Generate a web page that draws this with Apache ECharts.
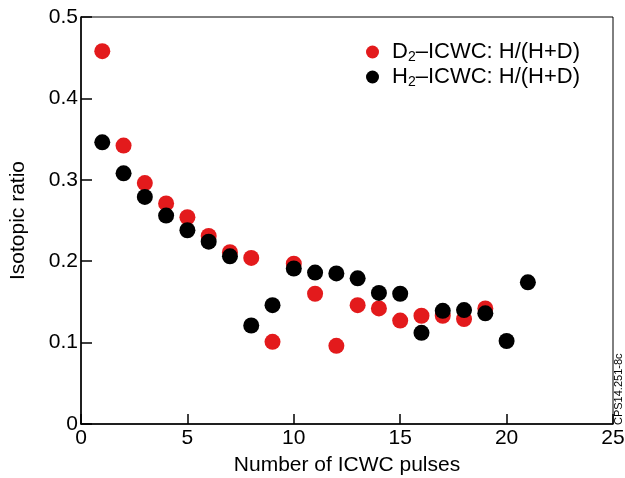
<!DOCTYPE html>
<html lang="en">
<head>
    <meta charset="UTF-8">
    <title>Isotopic ratio</title>
    <script src="https://cdn.jsdelivr.net/npm/echarts@6/dist/echarts.min.js"></script>
</head>
<body style="margin:0;">
    <div id="pic1" style="width:625px;height:478px;"></div>
    <script>
        // pulse numbers
        var pulsesD2 = [1, 2, 3, 4, 5, 6, 7, 8, 9, 10, 11, 12, 13, 14, 15, 16, 17, 18, 19];
        var pulsesH2 = [1, 2, 3, 4, 5, 6, 7, 8, 9, 10, 11, 12, 13, 14, 15, 16, 17, 18, 19, 20, 21];
        // D2-ICWC: H/(H+D)
        var ratioD2 = [0.458, 0.342, 0.296, 0.271, 0.254, 0.231, 0.211, 0.204, 0.101, 0.197,
                       0.160, 0.096, 0.146, 0.142, 0.127, 0.133, 0.133, 0.129, 0.142];
        // H2-ICWC: H/(H+D)
        var ratioH2 = [0.346, 0.308, 0.279, 0.256, 0.238, 0.224, 0.206, 0.121, 0.146, 0.191,
                       0.186, 0.185, 0.179, 0.161, 0.160, 0.112, 0.139, 0.140, 0.136, 0.102, 0.174];

        var font = 'Liberation Sans';

        function pairs(xs, ys) {
            var out = [];
            for (var i = 0; i < xs.length; i++) out.push([xs[i], ys[i]]);
            return out;
        }

        var myChart = echarts.init(document.getElementById("pic1"));

        var option = {
            backgroundColor: '#ffffff',
            animation: false,
            grid: {
                left: 81, right: 12, top: 17, bottom: 54,
                outerBoundsMode: 'none',
                show: true,
                borderColor: '#000',
                borderWidth: 1
            },
            legend: {
                orient: 'vertical',
                left: 366,
                top: 40,
                padding: 0,
                itemGap: 1,
                itemWidth: 13,
                itemHeight: 13,
                icon: 'circle',
                formatter: function (name) {
                    return name === 'D2'
                        ? '{f|D}{s|2}{n|\u2013ICWC: H/(H+D)}'
                        : '{f|H}{s|2}{n|\u2013ICWC: H/(H+D)}';
                },
                textStyle: {
                    fontFamily: font,
                    color: '#000',
                    rich: {
                        f: { fontSize: 22, fontFamily: font, color: '#000', lineHeight: 20, padding: [0, 0, 0, 8] },
                        n: { fontSize: 22, fontFamily: font, color: '#000', lineHeight: 20 },
                        s: { fontSize: 14, fontFamily: font, color: '#000', lineHeight: 20, padding: [10, 0, 0, 0] }
                    }
                },
                data: ['D2', 'H2']
            },
            xAxis: {
                type: 'value',
                min: 0, max: 25, interval: 5,
                name: 'Number of ICWC pulses',
                nameLocation: 'middle',
                nameGap: 31,
                nameTextStyle: { fontFamily: font, fontSize: 21, color: '#000' },
                axisLine: { lineStyle: { color: '#000', width: 1.5 } },
                axisTick: { inside: true, length: 10, lineStyle: { color: '#000', width: 1.5 } },
                axisLabel: { fontFamily: font, fontSize: 21, color: '#000', margin: 4 },
                splitLine: { show: false }
            },
            yAxis: {
                type: 'value',
                min: 0, max: 0.5, interval: 0.1,
                name: 'Isotopic ratio',
                nameLocation: 'middle',
                nameGap: 52,
                nameTextStyle: { fontFamily: font, fontSize: 21, color: '#000' },
                axisLine: { show: true, lineStyle: { color: '#000', width: 1.5 } },
                axisTick: { show: true, inside: true, length: 11, lineStyle: { color: '#000', width: 1.5 } },
                axisLabel: {
                    fontFamily: font, fontSize: 21, color: '#000', margin: 3,
                    formatter: function (v) { return v === 0 ? '0' : v.toFixed(1); }
                },
                splitLine: { show: false }
            },
            graphic: [{
                type: 'text',
                x: 624,
                y: 425,
                rotation: Math.PI / 2,
                style: {
                    text: 'CPS14.251-8c',
                    font: '11px "Liberation Sans"',
                    fill: '#000',
                    textAlign: 'left',
                    textVerticalAlign: 'bottom'
                }
            }],
            series: [
                {
                    name: 'D2',
                    type: 'scatter',
                    symbolSize: 16,
                    itemStyle: { color: '#e31a1c', opacity: 1 },
                    data: pairs(pulsesD2, ratioD2)
                },
                {
                    name: 'H2',
                    type: 'scatter',
                    symbolSize: 16,
                    itemStyle: { color: '#000000', opacity: 1 },
                    data: pairs(pulsesH2, ratioH2)
                }
            ]
        };

        myChart.setOption(option);
    </script>
</body>
</html>
